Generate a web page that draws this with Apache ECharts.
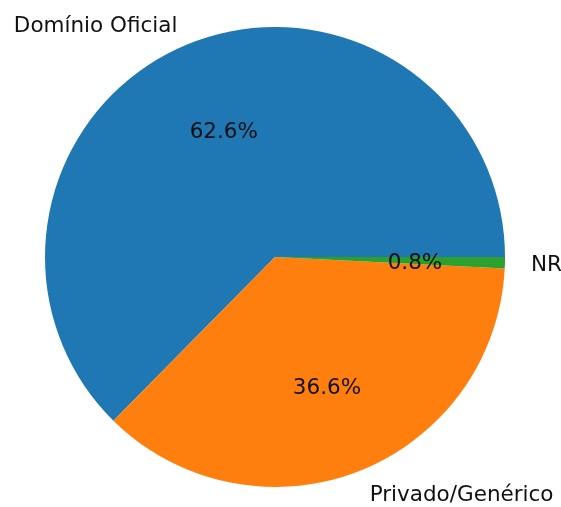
<!DOCTYPE html>
<html>
<head>
<meta charset="utf-8">
<script src="https://cdn.jsdelivr.net/npm/echarts@6/dist/echarts.min.js"></script>
<style>
  html, body { margin: 0; padding: 0; background: #fff; }
  #main { width: 561px; height: 507px; }
</style>
</head>
<body>
<div id="main"></div>
<script>
  const categories = ["Domínio Oficial", "Privado/Genérico", "NR"];
  const values = [62.6, 36.6, 0.8];
  const colors = ["#1f77b4", "#ff7f0e", "#2ca02c"];

  const myChart = echarts.init(document.getElementById("main"));

  const R = 230;
  const center = [275, 257];
  const font = { fontFamily: "DejaVu Sans", fontSize: 21.5, color: "#111" };

  const pieData = categories.map(function (name, i) {
    return { name: name, value: values[i], itemStyle: { color: colors[i] } };
  });

  const option = {
    animation: false,
    series: [
      {
        // wedges + category labels at 1.1 r
        type: "pie",
        center: center,
        radius: [0, R],
        startAngle: 0,
        clockwise: false,
        avoidLabelOverlap: false,
        silent: true,
        itemStyle: { borderWidth: 0 },
        label: Object.assign({
          show: true,
          position: "outside",
          formatter: "{b}",
          distanceToLabelLine: 0,
          padding: [0, 0, 0, 3],
          rich: {}
        }, font),
        labelLayout: function (p) {
          return { dy: 2.5 };
        },
        labelLine: { show: false, length: R * 0.1, length2: 0 },
        data: pieData
      },
      {
        // invisible copy, just to put the percentages at 0.6 r
        type: "pie",
        center: center,
        radius: [0, (R * 0.6 - 3) * 2],
        startAngle: 0,
        clockwise: false,
        avoidLabelOverlap: false,
        silent: true,
        percentPrecision: 1,
        itemStyle: { color: "transparent", borderWidth: 0 },
        label: Object.assign({
          show: true,
          position: "inside",
          formatter: "{d}%",
          padding: [0, 0, 0, 4]
        }, font),
        labelLayout: function (p) {
          return { dy: 3 };
        },
        labelLine: { show: false },
        data: categories.map(function (name, i) {
          return { name: name, value: values[i] };
        })
      }
    ]
  };

  option && myChart.setOption(option);
</script>
</body>
</html>
